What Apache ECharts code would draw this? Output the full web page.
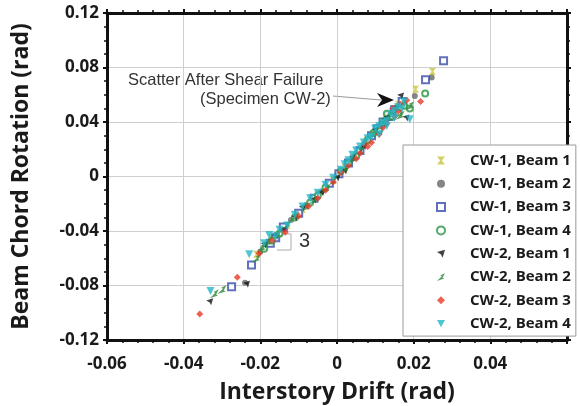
<!DOCTYPE html>
<html>
<head>
<meta charset="utf-8">
<script src="https://cdn.jsdelivr.net/npm/echarts@6/dist/echarts.min.js"></script>
<style>
  html, body { margin: 0; padding: 0; background: #fff; }
  #chart { width: 580px; height: 406px; }
</style>
</head>
<body>
<div id="chart"></div>
<script>
// data: [interstory drift, beam chord rotation]
var cw1Beam1 = [[-0.021,-0.057],[-0.017,-0.045],[-0.013,-0.036],[-0.009,-0.024],[-0.005,-0.013],[-0.001,-0.003],[0.002,0.007],[0.005,0.016],[0.008,0.026],[0.011,0.036],[0.014,0.045],[0.016,0.053],[0.0205,0.064],[0.0249,0.077]];
var cw1Beam2 = [[-0.024,-0.078],[-0.020,-0.055],[-0.016,-0.043],[-0.012,-0.032],[-0.008,-0.021],[-0.004,-0.011],[0.000,0.001],[0.004,0.013],[0.007,0.023],[0.010,0.033],[0.013,0.042],[0.015,0.050],[0.0203,0.059],[0.0247,0.0726]];
var cw1Beam3 = [[-0.0275,-0.081],[-0.0223,-0.065],[-0.0174,-0.049],[-0.016,-0.045],[-0.014,-0.037],[-0.010,-0.027],[-0.006,-0.016],[-0.002,-0.005],[0.0005,0.002],[0.003,0.010],[0.006,0.019],[0.009,0.030],[0.0105,0.035],[0.012,0.040],[0.0135,0.044],[0.015,0.049],[0.017,0.055],[0.0231,0.071],[0.0278,0.085]];
var cw1Beam4 = [[-0.019,-0.053],[-0.017,-0.047],[-0.015,-0.042],[-0.011,-0.030],[-0.007,-0.019],[-0.005,-0.014],[-0.003,-0.008],[0.001,0.004],[0.003,0.010],[0.005,0.015],[0.008,0.027],[0.0095,0.032],[0.011,0.034],[0.013,0.046],[0.0145,0.044],[0.016,0.047],[0.0175,0.052],[0.019,0.050],[0.023,0.061]];
var cw2Beam1 = [[-0.0332,-0.092],[-0.0236,-0.079],[-0.019,-0.050],[-0.016,-0.044],[-0.014,-0.039],[-0.011,-0.030],[-0.009,-0.023],[-0.006,-0.017],[-0.004,-0.012],[0.000,-0.001],[0.002,0.004],[0.004,0.014],[0.006,0.020],[0.007,0.022],[0.010,0.034],[0.012,0.039],[0.013,0.043],[0.015,0.049],[0.0166,0.059],[0.018,0.043]];
var cw2Beam2 = [[-0.032,-0.086],[-0.030,-0.083],[-0.021,-0.060],[-0.0195,-0.052],[-0.018,-0.048],[-0.0155,-0.042],[-0.013,-0.035],[-0.011,-0.029],[-0.008,-0.022],[-0.006,-0.017],[-0.003,-0.009],[-0.001,-0.003],[0.002,0.006],[0.004,0.013],[0.006,0.019],[0.007,0.025],[0.009,0.031],[0.010,0.033],[0.0115,0.041],[0.012,0.038],[0.013,0.043],[0.014,0.048],[0.015,0.051],[0.0165,0.045],[0.017,0.054],[0.019,0.052]];
var cw2Beam3 = [[-0.0358,-0.101],[-0.026,-0.074],[-0.0203,-0.0565],[-0.017,-0.047],[-0.0135,-0.041],[-0.010,-0.029],[-0.0075,-0.022],[-0.005,-0.016],[-0.003,-0.010],[-0.001,-0.004],[0.001,0.003],[0.003,0.008],[0.005,0.013],[0.006,0.017],[0.007,0.024],[0.008,0.022],[0.009,0.025],[0.011,0.031],[0.012,0.036],[0.013,0.039],[0.0145,0.050],[0.015,0.044],[0.016,0.048],[0.0165,0.053],[0.0182,0.056],[0.0218,0.055]];
var cw2Beam4 = [[-0.033,-0.084],[-0.0229,-0.057],[-0.019,-0.049],[-0.0177,-0.043],[-0.016,-0.044],[-0.015,-0.039],[-0.013,-0.036],[-0.011,-0.028],[-0.009,-0.022],[-0.007,-0.016],[-0.005,-0.012],[-0.003,-0.006],[-0.001,-0.001],[0.001,0.005],[0.002,0.009],[0.003,0.012],[0.004,0.016],[0.005,0.019],[0.006,0.022],[0.007,0.025],[0.008,0.028],[0.009,0.029],[0.010,0.035],[0.011,0.031],[0.011,0.037],[0.012,0.039],[0.013,0.037],[0.013,0.041],[0.014,0.046],[0.015,0.043],[0.015,0.048],[0.016,0.051],[0.017,0.050],[0.0175,0.055],[0.019,0.042]];

var seriesNames = ['CW-1, Beam 1', 'CW-1, Beam 2', 'CW-1, Beam 3', 'CW-1, Beam 4',
                   'CW-2, Beam 1', 'CW-2, Beam 2', 'CW-2, Beam 3', 'CW-2, Beam 4'];

var chart = echarts.init(document.getElementById('chart'));
var tickFont = { fontFamily: 'Open Sans', fontWeight: 'bold', fontSize: 17, color: '#1a1a1a' };
var nameFont = { fontFamily: 'Open Sans', fontWeight: 'bold', fontSize: 23, color: '#1a1a1a' };

var fmt = function (v) {
    if (Math.abs(v) < 1e-9) return '0';
    return v.toFixed(2);
};

var mk = function (name, data, symbol, size, color, extra) {
    var s = {
        name: name,
        type: 'scatter',
        data: data,
        symbol: symbol,
        symbolSize: size,
        itemStyle: { color: color },
        z: 3
    };
    return Object.assign(s, extra || {});
};

var boxAxis = {
    axisLine: { onZero: false, lineStyle: { color: '#111', width: 3 } },
    axisTick: { inside: false, length: 4, lineStyle: { color: '#111', width: 2 } },
    splitLine: { show: false },
    axisLabel: { show: false }
};

var option = {
    animation: false,
    backgroundColor: '#fff',
    grid: { left: 107, right: 13, top: 13, bottom: 66, outerBoundsMode: 'none' },
    xAxis: [{
        type: 'value',
        min: -0.06, max: 0.06, interval: 0.02,
        name: 'Interstory Drift (rad)',
        nameLocation: 'middle',
        nameGap: 41,
        nameTextStyle: nameFont,
        axisLine: { onZero: false, lineStyle: { color: '#111', width: 3 } },
        axisTick: { inside: false, length: 4, lineStyle: { color: '#111', width: 2 } },
        minorTick: { show: true, splitNumber: 5, length: 3, lineStyle: { color: '#111', width: 1.5 } },
        splitLine: { show: true, lineStyle: { color: '#cfcfcf', width: 1 } },
        axisLabel: Object.assign({ margin: 16, formatter: function (v) {
            return Math.abs(v - 0.06) < 1e-9 ? '' : fmt(v);
        } }, tickFont)
    }, Object.assign({
        type: 'value', position: 'top',
        min: -0.06, max: 0.06, interval: 0.02,
        minorTick: { show: true, splitNumber: 5, length: 3, lineStyle: { color: '#111', width: 1.5 } }
    }, boxAxis)],
    yAxis: [{
        type: 'value',
        min: -0.12, max: 0.12, interval: 0.04,
        name: 'Beam Chord Rotation (rad)',
        nameLocation: 'middle',
        nameGap: 74,
        nameTextStyle: nameFont,
        axisLine: { onZero: false, lineStyle: { color: '#111', width: 3 } },
        axisTick: { inside: false, length: 4, lineStyle: { color: '#111', width: 2 } },
        minorTick: { show: true, splitNumber: 4, length: 3, lineStyle: { color: '#111', width: 1.5 } },
        splitLine: { show: true, lineStyle: { color: '#cfcfcf', width: 1 } },
        axisLabel: Object.assign({ margin: 8, formatter: fmt }, tickFont)
    }, Object.assign({
        type: 'value', position: 'right',
        min: -0.12, max: 0.12, interval: 0.04,
        minorTick: { show: true, splitNumber: 4, length: 3, lineStyle: { color: '#111', width: 1.5 } }
    }, boxAxis)],
    legend: {
        data: seriesNames,
        orient: 'vertical',
        left: 403, top: 145,
        padding: [8, 5, 5, 33],
        itemGap: 8.3,
        itemWidth: 8, itemHeight: 8,
        backgroundColor: '#fff',
        borderColor: '#9a9a9a', borderWidth: 1,
        textStyle: { fontFamily: 'Open Sans', fontWeight: 'bold', fontSize: 15, color: '#1a1a1a', padding: [0, 0, 0, 20] }
    },
    series: [
        mk(seriesNames[0], cw1Beam1, 'path://M0,0 L10,0 L6,5 L10,10 L0,10 L4,5 Z', 7, '#c7c438'),
        mk(seriesNames[1], cw1Beam2, 'circle', 6, '#666'),
        mk(seriesNames[2], cw1Beam3, 'emptyRect', 7, '#3a4ea8', { itemStyle: { color: '#3a4ea8', borderWidth: 2 } }),
        mk(seriesNames[3], cw1Beam4, 'emptyCircle', 6, '#2b9440', { itemStyle: { color: '#2b9440', borderWidth: 2 } }),
        mk(seriesNames[4], cw2Beam1, 'path://M0,3 L10,0 L7,10 L5,6 Z', 7, '#111'),
        mk(seriesNames[5], cw2Beam2, 'path://M0,10 L6,4 L4,3 L10,0 L7,6 L9,7 Z', 9, '#2e8a3c'),
        mk(seriesNames[6], cw2Beam3, 'diamond', 7, '#e8392a'),
        mk(seriesNames[7], cw2Beam4, 'path://M0,0 L10,0 L5,9 Z', 8, '#27b6c8')
    ],
    graphic: [
        { type: 'text', left: 128, top: 72, style: { text: 'Scatter After Shear Failure', font: '16.5px "Liberation Sans"', fill: '#333' } },
        { type: 'text', left: 200, top: 91, style: { text: '(Specimen CW-2)', font: '16.5px "Liberation Sans"', fill: '#333' } },
        { type: 'line', shape: { x1: 333, y1: 96, x2: 381, y2: 100 }, style: { stroke: '#999', lineWidth: 1 } },
        { type: 'polygon', shape: { points: [[377, 93], [394, 100], [377, 107], [382, 100]] }, style: { fill: '#111' } },
        { type: 'polyline', shape: { points: [[276, 234], [291, 234], [291, 250], [277, 250]] }, style: { stroke: '#aaa', lineWidth: 1, fill: null } },
        { type: 'text', left: 299, top: 231, style: { text: '3', font: '20px "Liberation Sans"', fill: '#333' } }
    ]
};

chart.setOption(option);
</script>
</body>
</html>
